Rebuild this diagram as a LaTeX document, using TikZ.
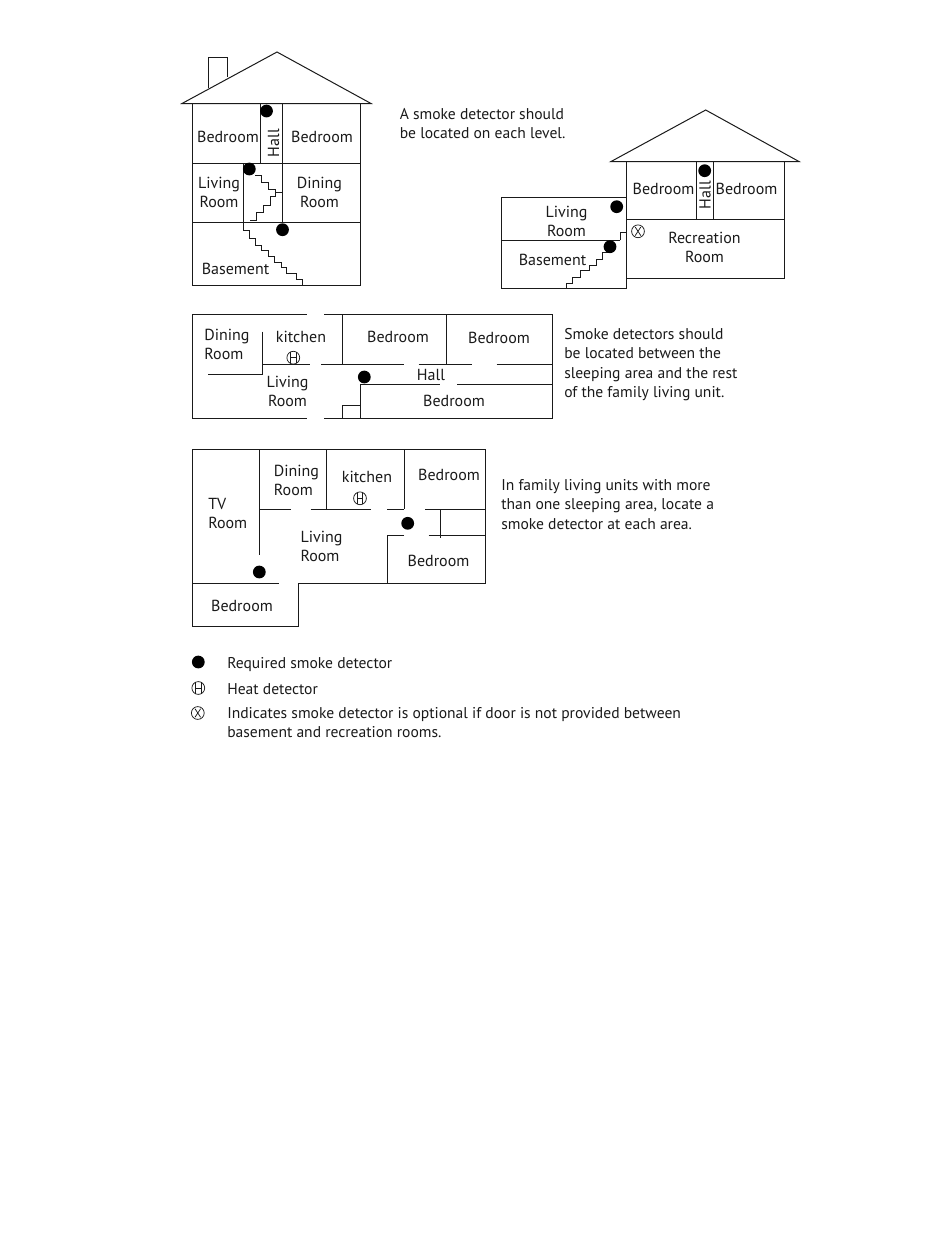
\documentclass[tikz,border=0pt]{standalone}
\usepackage{fontspec}
\setmainfont{PT Sans}
\definecolor{ink}{HTML}{1A1A1A}
\tikzset{
  px/.style={x=0.75pt,y=-0.75pt},
  wall/.style={draw=ink,line width=0.75pt,line cap=butt,line join=miter},
  thin wall/.style={draw=ink,line width=0.6pt},
  lab/.style={text=ink,font=\fontsize{12}{14.3}\selectfont,align=center,inner sep=0pt},
  note/.style={text=ink,font=\fontsize{11.7}{14.6}\selectfont,align=left,anchor=north west,inner sep=0pt},
  rot/.style={lab,rotate=90},
  dot/.style={circle,fill=black,draw=none,minimum size=9.6pt,inner sep=0pt},
  ring/.style={circle,draw=ink,line width=0.55pt,minimum size=9.6pt,inner sep=0pt}
}
\newcommand{\heatmark}[2]{%
  \node[ring] (h#1) at (#2) {};
  \draw[draw=ink,line width=0.55pt] ([shift={(-2.1pt,-4.3pt)}]h#1.center) -- ([shift={(-2.1pt,4.3pt)}]h#1.center)
    ([shift={(2.1pt,-4.3pt)}]h#1.center) -- ([shift={(2.1pt,4.3pt)}]h#1.center)
    ([xshift=-2.1pt]h#1.center) -- ([xshift=2.1pt]h#1.center);}
\newcommand{\optmark}[2]{%
  \node[ring] (x#1) at (#2) {};
  \draw[draw=ink,line width=0.55pt] ([shift={(-2.1pt,-3.2pt)}]x#1.center) -- ([shift={(2.1pt,3.2pt)}]x#1.center)
    ([shift={(2.1pt,-3.2pt)}]x#1.center) -- ([shift={(-2.1pt,3.2pt)}]x#1.center);}
\begin{document}
\begin{tikzpicture}[px]
\useasboundingbox[fill=white] (0,0) rectangle (950,1254);
% ---------- House 1
\draw[wall] (182,103.5) -- (277,52) -- (371,103.5) -- cycle;
\draw[wall] (208,88) -- (208,57.5) -- (227,57.5) -- (227,77);
\draw[wall] (192.3,103.5) rectangle (360,285);
\draw[wall] (192.3,163) -- (360,163) (192.3,222) -- (360,222);
\draw[wall] (260,103.5) -- (260,163) (282.3,103.5) -- (282.3,222);
\draw[wall] (243,163) -- (243,230);
\draw[thin wall] (255,175) -- (261.7,175) -- (261.7,182.7) -- (268.3,182.7) -- (268.3,189.3) -- (275,189.3) -- (275,196.7) -- (270,196.7) -- (270,205) -- (263.3,205) -- (263.3,212.3) -- (256.7,212.3) -- (256.7,220) -- (250,220);
\draw[thin wall] (275,192.7) -- (282.3,192.7);
\draw[thin wall] (243,230) -- (249,230) -- (249,238.3) -- (255,238.3) -- (255,245) -- (261.7,245) -- (261.7,250) -- (268.3,250) -- (268.3,256.7) -- (274.3,256.7) -- (274.3,262.7) -- (281,262.7) -- (281,267.3) -- (286.7,267.3) -- (286.7,273.3) -- (296.7,273.3) -- (296.7,279) -- (302,279) -- (302,285);
\node[dot] (d1) at (266.5,111) {};
\node[dot] (d2) at (249.3,169) {};
\node[dot] (d3) at (282.5,229.7) {};
\node[lab] (t1) at (228,137) {Bedroom};
\node[rot] (t2) at (273.5,143) {Hall};
\node[lab] (t3) at (322,137) {Bedroom};
\node[lab] (t4) at (219,192) {Living\\Room};
\node[lab] (t5) at (319.5,192.5) {Dining\\Room};
\node[lab] (t6) at (235.5,269) {Basement};
\node[note] (n1) at (399.5,108) {A smoke detector should\\be located on each level.};
% ---------- House 2
\draw[wall] (610.7,161.7) -- (705.7,110) -- (799.3,161.7) -- cycle;
\draw[wall] (626.7,161.7) -- (626.7,288.3) (784,161.7) -- (784,278.7) -- (626.7,278.7);
\draw[wall] (626.7,219.3) -- (784,219.3);
\draw[wall] (696.7,161.7) -- (696.7,219.3) (713.3,161.7) -- (713.3,219.3);
\draw[wall] (626.7,197.7) -- (501,197.7) -- (501,288.3) -- (626.7,288.3);
\draw[wall] (501,240.3) -- (620,240.3);
\draw[thin wall] (620,240.3) -- (620,232.3) -- (626.7,232.3);
\draw[thin wall] (566.7,288.3) -- (566.7,283.3) -- (572.7,283.3) -- (572.7,277.7) -- (580.7,277.7) -- (580.7,270.7) -- (589,270.7) -- (589,265) -- (596,265) -- (596,259.3) -- (602.7,259.3) -- (602.7,252.7) -- (610,252.7);
\node[dot] (d4) at (704.7,170.7) {};
\node[dot] (d5) at (616.7,206.7) {};
\node[dot] (d6) at (610,246.7) {};
\optmark{a}{638,231.3}
\node[lab] (t7) at (663.5,189) {Bedroom};
\node[rot] (t8) at (705,195) {Hall};
\node[lab] (t9) at (746.5,189) {Bedroom};
\node[lab] (t10) at (566.5,221.5) {Living\\Room};
\node[lab] (t11) at (552.5,260) {Basement};
\node[lab] (t12) at (704.5,247.5) {Recreation\\Room};
% ---------- Plan 2
\draw[wall] (306.7,314.7) -- (192.3,314.7) -- (192.3,418) -- (306.7,418);
\draw[wall] (324.3,314.7) -- (552.3,314.7) -- (552.3,418) -- (324.3,418);
\draw[wall] (342.3,314.7) -- (342.3,364.3) (446.7,314.7) -- (446.7,364.3);
\draw[wall] (262.3,364.3) -- (310,364.3) (321.3,364.3) -- (404,364.3) (418.7,364.3) -- (471.7,364.3) (496.7,364.3) -- (552.3,364.3);
\draw[wall] (262,331.7) -- (262,374.3) -- (208.3,374.3);
\draw[wall] (360.3,418) -- (360.3,384) -- (440,384) (457.3,384) -- (552.3,384);
\draw[wall] (342.3,418) -- (342.3,405.7) -- (360.3,405.7);
\node[dot] (d7) at (364.3,377) {};
\heatmark{a}{293.3,357.7}
\node[lab] (t13) at (227,344) [align=left] {Dining\\Room};
\node[lab] (t14) at (301,337) {kitchen};
\node[lab] (t15) at (398,337) {Bedroom};
\node[lab] (t16) at (499,338) {Bedroom};
\node[lab] (t17) at (431,375) {Hall};
\node[lab] (t18) at (287.5,391) {Living\\Room};
\node[lab] (t19) at (454,401) {Bedroom};
\node[note] (n2) at (564,328) {Smoke detectors should\\be located between the\\sleeping area and the rest\\of the family living unit.};
% ---------- Plan 3
\draw[wall] (278.7,583.3) -- (192.3,583.3) (192.3,449.7) -- (485.3,449.7) -- (485.3,583.3) -- (298,583.3) -- (298,626) -- (192.3,626) -- cycle;
\draw[wall] (259,449.7) -- (259,555.3) (326.7,449.7) -- (326.7,509) (404.3,449.7) -- (404.3,509);
\draw[wall] (259,509) -- (290.7,509) (310.7,509) -- (370.7,509) (387.3,509) -- (404.3,509) (425.3,509) -- (485.3,509);
\draw[wall] (440.3,509) -- (440.3,538.3);
\draw[wall] (404,535.7) -- (387.3,535.7) -- (387.3,583.3) (428.7,535.7) -- (485.3,535.7);
\node[dot] (d8) at (407.7,523.3) {};
\node[dot] (d9) at (259.3,572) {};
\heatmark{b}{360,498.3}
\node[lab] (t20) at (296.5,480.5) [align=left] {Dining\\Room};
\node[lab] (t21) at (367,477) {kitchen};
\node[lab] (t22) at (449,474.5) {Bedroom};
\node[lab,align=left,anchor=west] (t23) at (208,513.5) {TV\\Room};
\node[lab] (t24) at (321.5,546) [align=left] {Living\\Room};
\node[lab] (t25) at (438.5,561) {Bedroom};
\node[lab] (t26) at (242,606) {Bedroom};
\node[note] (n3) at (501,479) {In family living units with more\\than one sleeping area, locate a\\smoke detector at each area.};
% ---------- Legend
\node[dot] (d10) at (198.3,662) {};
\heatmark{c}{198.3,688}
\optmark{b}{197.8,713}
\node[note] (l1) at (227,657) {Required smoke detector};
\node[note] (l2) at (227,683.5) {Heat detector};
\node[note] (l3) at (227,707) {Indicates smoke detector is optional if door is not provided between\\basement and recreation rooms.};
\end{tikzpicture}
\end{document}
